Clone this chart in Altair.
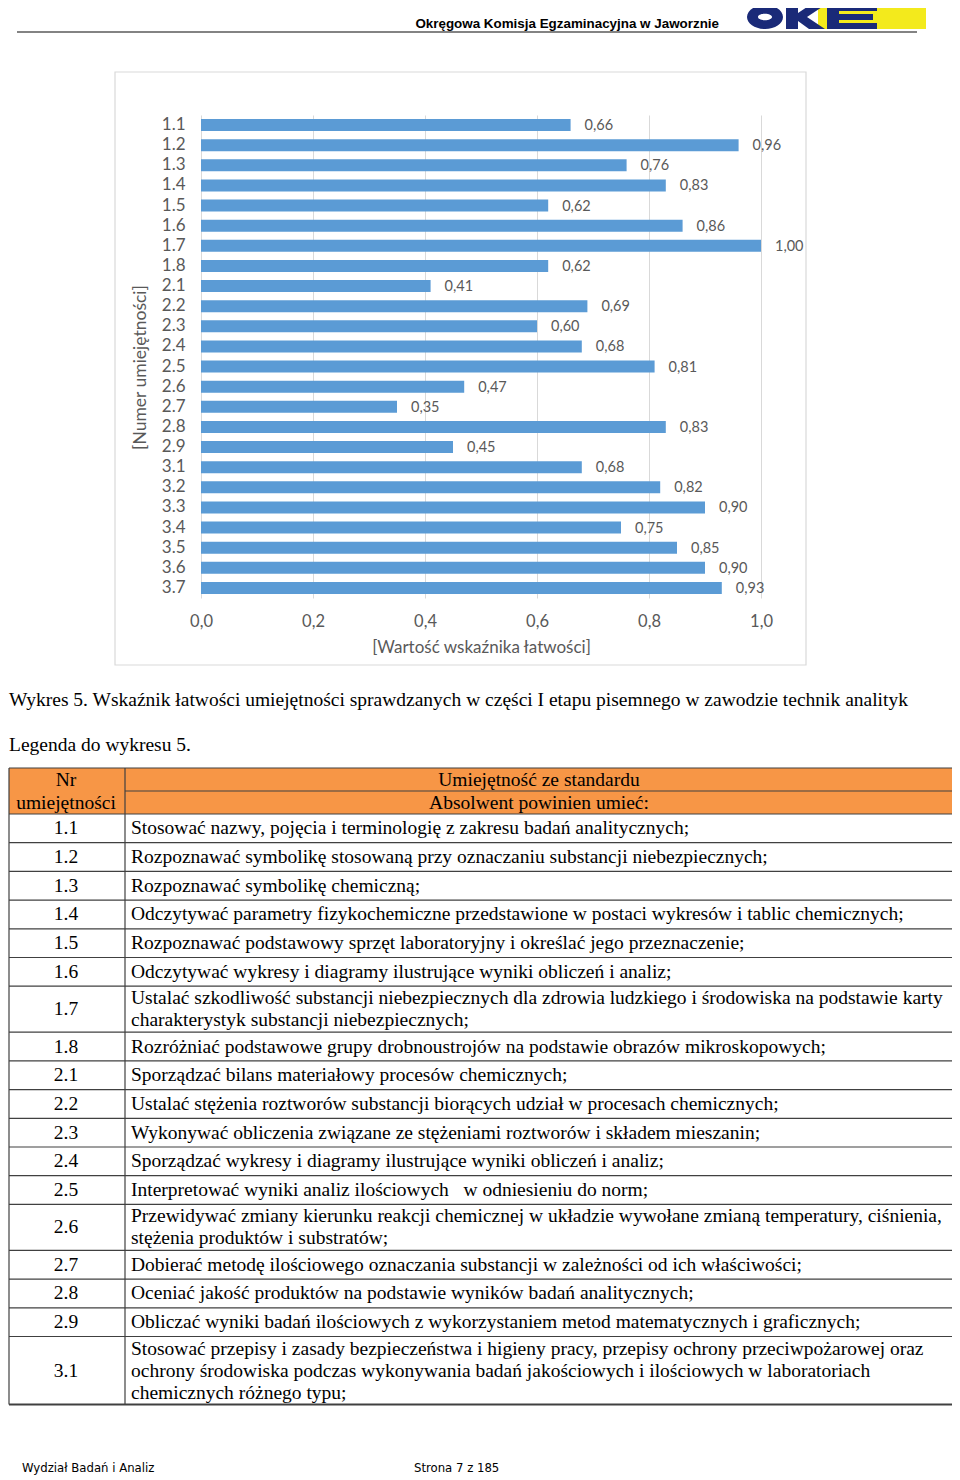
import altair as alt
import pandas as pd

# ---------------- chart data ----------------
skills = ["1.1", "1.2", "1.3", "1.4", "1.5", "1.6", "1.7", "1.8",
          "2.1", "2.2", "2.3", "2.4", "2.5", "2.6", "2.7", "2.8", "2.9",
          "3.1", "3.2", "3.3", "3.4", "3.5", "3.6", "3.7"]
values = [0.66, 0.96, 0.76, 0.83, 0.62, 0.86, 1.00, 0.62,
          0.41, 0.69, 0.60, 0.68, 0.81, 0.47, 0.35, 0.83, 0.45,
          0.68, 0.82, 0.90, 0.75, 0.85, 0.90, 0.93]
x_ticks = [0.0, 0.2, 0.4, 0.6, 0.8, 1.0]
x_title = "[Wartość wskaźnika łatwości]"
y_title = "[Numer umiejętności]"

# ---------------- page texts ----------------
page_title = "Okręgowa Komisja Egzaminacyjna w Jaworznie"
caption = ("Wykres 5. Wskaźnik łatwości umiejętności sprawdzanych w części I etapu "
           "pisemnego w zawodzie technik analityk")
legend_caption = "Legenda do wykresu 5."
footer_left = "Wydział Badań i Analiz"
footer_right = "Strona 7 z 185"

header_col1 = ["Nr", "umiejętności"]
header_col2 = ["Umiejętność ze standardu", "Absolwent powinien umieć:"]
table_nr = ["1.1", "1.2", "1.3", "1.4", "1.5", "1.6", "1.7", "1.8",
            "2.1", "2.2", "2.3", "2.4", "2.5", "2.6", "2.7", "2.8", "2.9", "3.1"]
table_desc = [
    ["Stosować nazwy, pojęcia i terminologię z zakresu badań analitycznych;"],
    ["Rozpoznawać symbolikę stosowaną przy oznaczaniu substancji niebezpiecznych;"],
    ["Rozpoznawać symbolikę chemiczną;"],
    ["Odczytywać parametry fizykochemiczne przedstawione w postaci wykresów i tablic chemicznych;"],
    ["Rozpoznawać podstawowy sprzęt laboratoryjny i określać jego przeznaczenie;"],
    ["Odczytywać wykresy i diagramy ilustrujące wyniki obliczeń i analiz;"],
    ["Ustalać szkodliwość substancji niebezpiecznych dla zdrowia ludzkiego i środowiska na podstawie karty",
     "charakterystyk substancji niebezpiecznych;"],
    ["Rozróżniać podstawowe grupy drobnoustrojów na podstawie obrazów mikroskopowych;"],
    ["Sporządzać bilans materiałowy procesów chemicznych;"],
    ["Ustalać stężenia roztworów substancji biorących udział w procesach chemicznych;"],
    ["Wykonywać obliczenia związane ze stężeniami roztworów i składem mieszanin;"],
    ["Sporządzać wykresy i diagramy ilustrujące wyniki obliczeń i analiz;"],
    ["Interpretować wyniki analiz ilościowych \u00a0 w odniesieniu do norm;"],
    ["Przewidywać zmiany kierunku reakcji chemicznej w układzie wywołane zmianą temperatury, ciśnienia,",
     "stężenia produktów i substratów;"],
    ["Dobierać metodę ilościowego oznaczania substancji w zależności od ich właściwości;"],
    ["Oceniać jakość produktów na podstawie wyników badań analitycznych;"],
    ["Obliczać wyniki badań ilościowych z wykorzystaniem metod matematycznych i graficznych;"],
    ["Stosować przepisy i zasady bezpieczeństwa i higieny pracy, przepisy ochrony przeciwpożarowej oraz",
     "ochrony środowiska podczas wykonywania badań jakościowych i ilościowych w laboratoriach",
     "chemicznych różnego typu;"],
]

# ---------------- layout (page pixels) ----------------
PAGE_W, PAGE_H = 960, 1480
PL, PT, PW, PH = 201, 115, 560, 483          # bar-chart plot area on the page
CANVAS_W, CANVAS_H = 944, 1468

XS = alt.Scale(domain=[0, PAGE_W], range=[-PL, PAGE_W - PL], nice=False, zero=False)
YS = alt.Scale(domain=[0, PAGE_H], range=[-PT, PAGE_H - PT], nice=False, zero=False)

CHART_FONT = "Lato"
SERIF = "Liberation Serif"
GREY = "#595959"
ORANGE = "#f79646"
NAVY = "#1a2a78"
YELLOW = "#f3ea1c"
LINE_C = "#404040"
BODY_SIZE = 19.5


def px():
    return alt.X("x:Q", scale=XS, axis=None)


def py():
    return alt.Y("y:Q", scale=YS, axis=None)


def text_layer(rows, align, font, size, color="black", weight="normal", baseline="middle"):
    df = pd.DataFrame(rows, columns=["x", "y", "t"])
    return alt.Chart(df).mark_text(align=align, baseline=baseline, font=font,
                                   fontSize=size, color=color, fontWeight=weight).encode(
        x=px(), y=py(), text="t:N")


def rule_layer(rows, color, width):
    df = pd.DataFrame(rows, columns=["x", "x2", "y", "y2"])
    return alt.Chart(df).mark_rule(color=color, strokeWidth=width).encode(
        x=px(), x2="x2:Q", y=py(), y2="y2:Q")


def rect_layer(rows, **mark):
    df = pd.DataFrame(rows, columns=["x", "x2", "y", "y2"])
    return alt.Chart(df).mark_rect(**mark).encode(x=px(), x2="x2:Q", y=py(), y2="y2:Q")


# ---------------- header ----------------
header_text = text_layer([(719, 28, page_title)], "right", "Liberation Sans", 13.4,
                         weight="bold", baseline="alphabetic")
header_rule = rule_layer([(17, 917, 32, 32)], "#5a5a5a", 1.5)
logo_bg = rect_layer([(818, 926, 5, 29)], color=YELLOW)
logo_path = ("M0,12 A18,12 0 1,1 36,12 A18,12 0 1,1 0,12 Z "
             "M11,12 A7,3.2 0 1,0 25,12 A7,3.2 0 1,0 11,12 Z "
             "M39,0 L51,0 L51,8 L63,0 L78,0 L60,12 L78,24 L62,24 L51,16 L51,24 L39,24 Z "
             "M80,0 L130,0 L130,6 L92,6 L92,9 L126,9 L126,15 L92,15 L92,18 L130,18 L130,24 L80,24 Z")
logo = alt.Chart(pd.DataFrame({"a": [0]})).mark_point(
    shape=logo_path, size=4, filled=True, color=NAVY, opacity=1, strokeWidth=0).encode(
    x=alt.value(747 - PL), y=alt.value(5 - PT))

# ---------------- chart frame ----------------
frame = rect_layer([(115, 806, 72, 665)], fillOpacity=0, stroke="#d9d9d9", strokeWidth=1.2)

# ---------------- bar chart ----------------
bar_df = pd.DataFrame({"skill": skills, "value": values})
bar_df["label"] = [f"{v:.2f}".replace(".", ",") for v in values]

y_enc = alt.Y("skill:N", sort=skills,
              scale=alt.Scale(paddingInner=0.4, paddingOuter=0.2),
              axis=alt.Axis(orient="left", title=y_title, ticks=False, domain=False, grid=False,
                            labelFont=CHART_FONT, labelFontSize=17, labelColor=GREY, labelPadding=16,
                            titleFont=CHART_FONT, titleFontSize=17.5, titleFontWeight="normal",
                            titleColor=GREY, titlePadding=12, titleY=252))
x_enc = alt.X("value:Q", scale=alt.Scale(domain=[0, 1], nice=False),
              axis=alt.Axis(orient="bottom", values=x_ticks, title=x_title,
                            labelExpr="replace(format(datum.value, '.1f'), '.', ',')",
                            grid=True, gridColor="#d9d9d9", gridWidth=1, ticks=False, domain=False,
                            labelFlush=False, labelFont=CHART_FONT, labelFontSize=16.5,
                            labelColor=GREY, labelPadding=15,
                            titleFont=CHART_FONT, titleFontSize=17, titleFontWeight="normal",
                            titleColor=GREY, titlePadding=10))

bars = alt.Chart(bar_df).mark_bar(color="#5b9bd5").encode(y=y_enc, x=x_enc)
bar_labels = alt.Chart(bar_df).mark_text(align="left", baseline="middle", dx=14, dy=1,
                                         font=CHART_FONT, fontSize=14.5, color=GREY).encode(
    y=alt.Y("skill:N", sort=skills), x=alt.X("value:Q"), text="label:N")
bar_group = alt.layer(bars, bar_labels)

# ---------------- caption ----------------
caption_layer = text_layer([(9, 700, caption), (9, 745, legend_caption)], "left", SERIF, BODY_SIZE)

# ---------------- table ----------------
T_LEFT, T_COL, T_RIGHT = 9, 125, 953
T_TOP, HEAD_ROW, LINE = 768, 23, 22
COL1_C = 66
COL2_C = (T_COL + T_RIGHT) / 2
DESC_X = 131

center_rows, left_rows, h_rules = [], [], []
for i in range(2):
    yc = T_TOP + HEAD_ROW * (i + 0.5)
    center_rows.append((COL1_C, yc, header_col1[i]))
    center_rows.append((COL2_C, yc, header_col2[i]))

y = T_TOP + 2 * HEAD_ROW
h_rules.append((T_LEFT, T_RIGHT, y, y))
for nr, lines in zip(table_nr, table_desc):
    n = len(lines)
    h = 28.7 if n == 1 else 2 + LINE * n
    yc = y + h / 2
    center_rows.append((COL1_C, yc, nr))
    for k, line in enumerate(lines):
        left_rows.append((DESC_X, yc + (k - (n - 1) / 2) * LINE, line))
    y += h
    h_rules.append((T_LEFT, T_RIGHT, y, y))
T_BOTTOM = y

table_fill = rect_layer([(T_LEFT, T_RIGHT, T_TOP, T_TOP + 2 * HEAD_ROW)], color=ORANGE)
table_lines = rule_layer(
    h_rules[:-1]
    + [(T_LEFT, T_RIGHT, T_TOP, T_TOP), (T_COL, T_RIGHT, T_TOP + HEAD_ROW, T_TOP + HEAD_ROW)]
    + [(xv, xv, T_TOP, T_BOTTOM) for xv in (T_LEFT, T_COL, T_RIGHT)],
    LINE_C, 1.2)
table_bottom = rule_layer([h_rules[-1]], LINE_C, 2.2)
table_center_text = text_layer(center_rows, "center", SERIF, BODY_SIZE)
table_left_text = text_layer(left_rows, "left", SERIF, BODY_SIZE)

# ---------------- footer ----------------
footer = text_layer([(22, 1468, footer_left), (414, 1468, footer_right)], "left",
                    "Liberation Sans Narrow, DejaVu Sans Condensed, sans-serif", 13)

chart = alt.layer(
    frame, logo_bg, logo, header_text, header_rule, caption_layer,
    table_fill, table_lines, table_bottom, table_center_text, table_left_text, footer,
    bar_group,
).resolve_scale(x="independent", y="independent").properties(
    width=PW, height=PH,
    autosize=alt.AutoSizeParams(type="none"),
    padding={"left": PL - 8, "top": PT - 8,
             "right": CANVAS_W - (PL - 8) - PW, "bottom": CANVAS_H - (PT - 8) - PH},
    background="white",
).configure_view(stroke="transparent")

chart.save("out.html", embed_options={"renderer": "svg", "actions": False})
